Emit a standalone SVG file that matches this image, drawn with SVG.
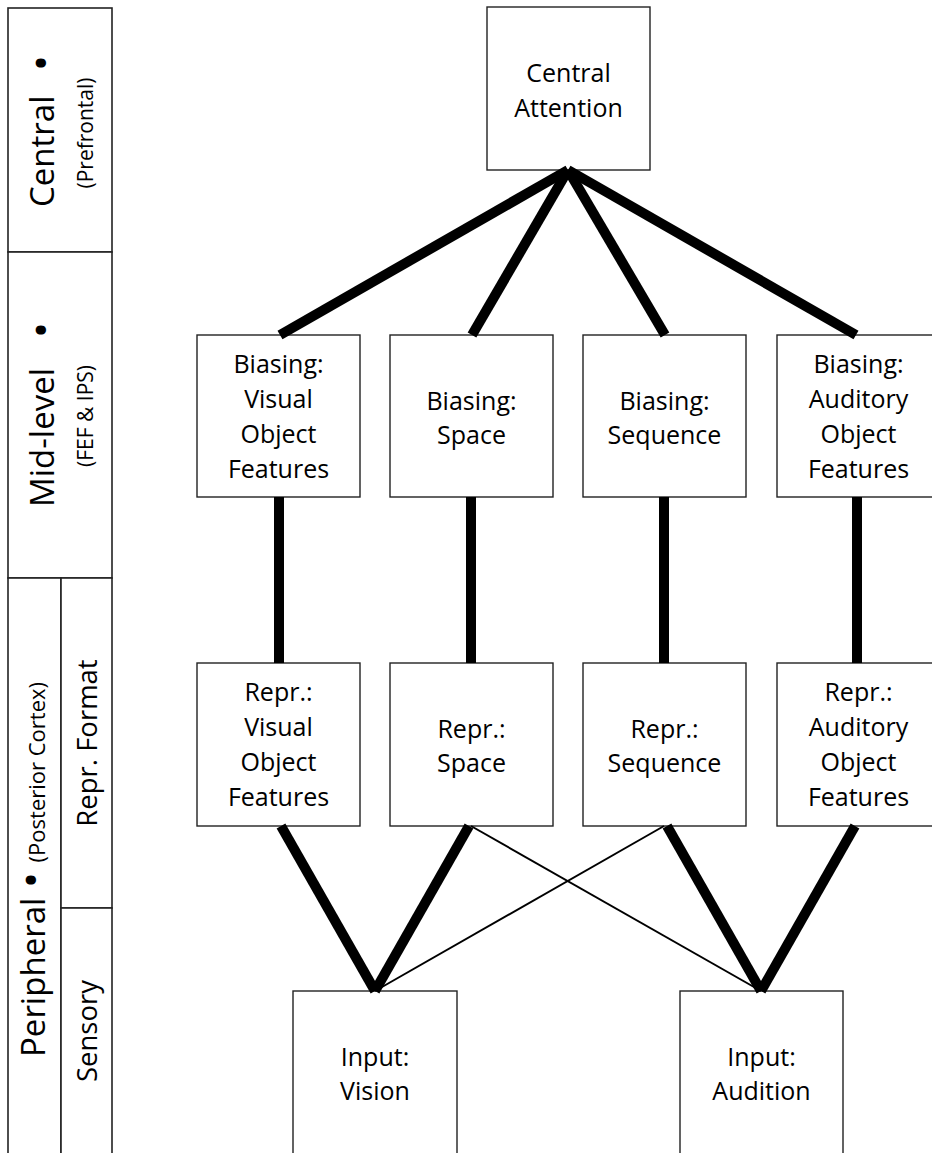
<svg xmlns="http://www.w3.org/2000/svg" width="932" height="1153" viewBox="0 0 932 1153">
<style>
.box{fill:#fff;stroke:#222;stroke-width:1.4}
.side{fill:#fff;stroke:#222;stroke-width:1.6}
.f{font-family:"Open Sans","Liberation Sans",sans-serif;fill:#000}
.t{font-size:25px;text-anchor:middle}
.big{font-size:33px;text-anchor:start}
.dot{font-size:44px;text-anchor:middle}
.small{font-size:21px;text-anchor:middle}
.mid{font-size:27.5px;text-anchor:middle}
.thick{stroke:#000;stroke-width:10;fill:none}
.thin{stroke:#000;stroke-width:2;fill:none}
</style>
<rect width="932" height="1153" fill="#fff"/>
<g id="sidebar">
  <rect class="side" x="8" y="8" width="104" height="244"/>
  <rect class="side" x="8" y="252" width="104" height="326"/>
  <rect class="side" x="8" y="578" width="53" height="590"/>
  <rect class="side" x="61" y="578" width="51" height="330"/>
  <rect class="side" x="61" y="908" width="51" height="260"/>
  <text class="f big" transform="translate(54,207) rotate(-90)">Central</text>
  <text class="f dot" transform="translate(57,63) rotate(-90)">•</text>
  <text class="f small" transform="translate(93,133) rotate(-90)">(Prefrontal)</text>
  <text class="f big" font-size="34px" transform="translate(54,507) rotate(-90)">Mid-level</text>
  <text class="f dot" transform="translate(57,330) rotate(-90)">•</text>
  <text class="f small" transform="translate(93,416) rotate(-90)">(FEF &amp; IPS)</text>
  <text class="f big" font-size="32px" transform="translate(45,1057) rotate(-90)">Peripheral</text>
  <text class="f dot" font-size="40px" transform="translate(47,880) rotate(-90)">•</text>
  <text class="f" font-size="22px" text-anchor="end" transform="translate(45,682) rotate(-90)">(Posterior Cortex)</text>
  <text class="f mid" transform="translate(97,743) rotate(-90)">Repr. Format</text>
  <text class="f mid" transform="translate(97,1031) rotate(-90)">Sensory</text>
</g>
<g id="central">
  <rect class="box" x="487" y="7" width="163" height="163"/>
  <text class="f t" x="568.5" y="82">Central</text>
  <text class="f t" x="568.5" y="116.5">Attention</text>
</g>
<g id="bias-visual">
  <rect class="box" x="197" y="335" width="163" height="162"/>
  <text class="f t" x="278.5" y="373">Biasing:</text>
  <text class="f t" x="278.5" y="408">Visual</text>
  <text class="f t" x="278.5" y="443">Object</text>
  <text class="f t" x="278.5" y="477.5">Features</text>
</g>
<g id="bias-space">
  <rect class="box" x="390" y="335" width="163" height="162"/>
  <text class="f t" x="471.5" y="409.5">Biasing:</text>
  <text class="f t" x="471.5" y="444">Space</text>
</g>
<g id="bias-sequence">
  <rect class="box" x="583" y="335" width="163" height="162"/>
  <text class="f t" x="664.5" y="409.5">Biasing:</text>
  <text class="f t" x="664.5" y="444">Sequence</text>
</g>
<g id="bias-auditory">
  <rect class="box" x="777" y="335" width="163" height="162"/>
  <text class="f t" x="858.5" y="373">Biasing:</text>
  <text class="f t" x="858.5" y="408">Auditory</text>
  <text class="f t" x="858.5" y="443">Object</text>
  <text class="f t" x="858.5" y="477.5">Features</text>
</g>
<g id="repr-visual">
  <rect class="box" x="197" y="663" width="163" height="163"/>
  <text class="f t" x="278.5" y="701">Repr.:</text>
  <text class="f t" x="278.5" y="736">Visual</text>
  <text class="f t" x="278.5" y="771">Object</text>
  <text class="f t" x="278.5" y="805.5">Features</text>
</g>
<g id="repr-space">
  <rect class="box" x="390" y="663" width="163" height="163"/>
  <text class="f t" x="471.5" y="737.5">Repr.:</text>
  <text class="f t" x="471.5" y="772">Space</text>
</g>
<g id="repr-sequence">
  <rect class="box" x="583" y="663" width="163" height="163"/>
  <text class="f t" x="664.5" y="737.5">Repr.:</text>
  <text class="f t" x="664.5" y="772">Sequence</text>
</g>
<g id="repr-auditory">
  <rect class="box" x="777" y="663" width="163" height="163"/>
  <text class="f t" x="858.5" y="701">Repr.:</text>
  <text class="f t" x="858.5" y="736">Auditory</text>
  <text class="f t" x="858.5" y="771">Object</text>
  <text class="f t" x="858.5" y="805.5">Features</text>
</g>
<g id="input-vision">
  <rect class="box" x="293" y="991" width="164" height="170"/>
  <text class="f t" x="375" y="1065.5">Input:</text>
  <text class="f t" x="375" y="1100">Vision</text>
</g>
<g id="input-audition">
  <rect class="box" x="680" y="991" width="163" height="170"/>
  <text class="f t" x="761.5" y="1065.5">Input:</text>
  <text class="f t" x="761.5" y="1100">Audition</text>
</g>
<g id="connectors">
  <line class="thick" x1="568" y1="170" x2="280" y2="335"/>
  <line class="thick" x1="568" y1="170" x2="472" y2="335"/>
  <line class="thick" x1="568" y1="170" x2="665" y2="335"/>
  <line class="thick" x1="568" y1="170" x2="856" y2="335"/>
  <line class="thick" x1="279" y1="497" x2="279" y2="663"/>
  <line class="thick" x1="471" y1="497" x2="471" y2="663"/>
  <line class="thick" x1="664" y1="497" x2="664" y2="663"/>
  <line class="thick" x1="857" y1="497" x2="857" y2="663"/>
  <line class="thick" x1="281" y1="826" x2="375" y2="991"/>
  <line class="thick" x1="469" y1="826" x2="375" y2="991"/>
  <line class="thick" x1="667" y1="826" x2="761" y2="991"/>
  <line class="thick" x1="855" y1="826" x2="761" y2="991"/>
  <line class="thin" x1="471" y1="826" x2="761" y2="991"/>
  <line class="thin" x1="664" y1="826" x2="375" y2="991"/>
</g>
</svg>
